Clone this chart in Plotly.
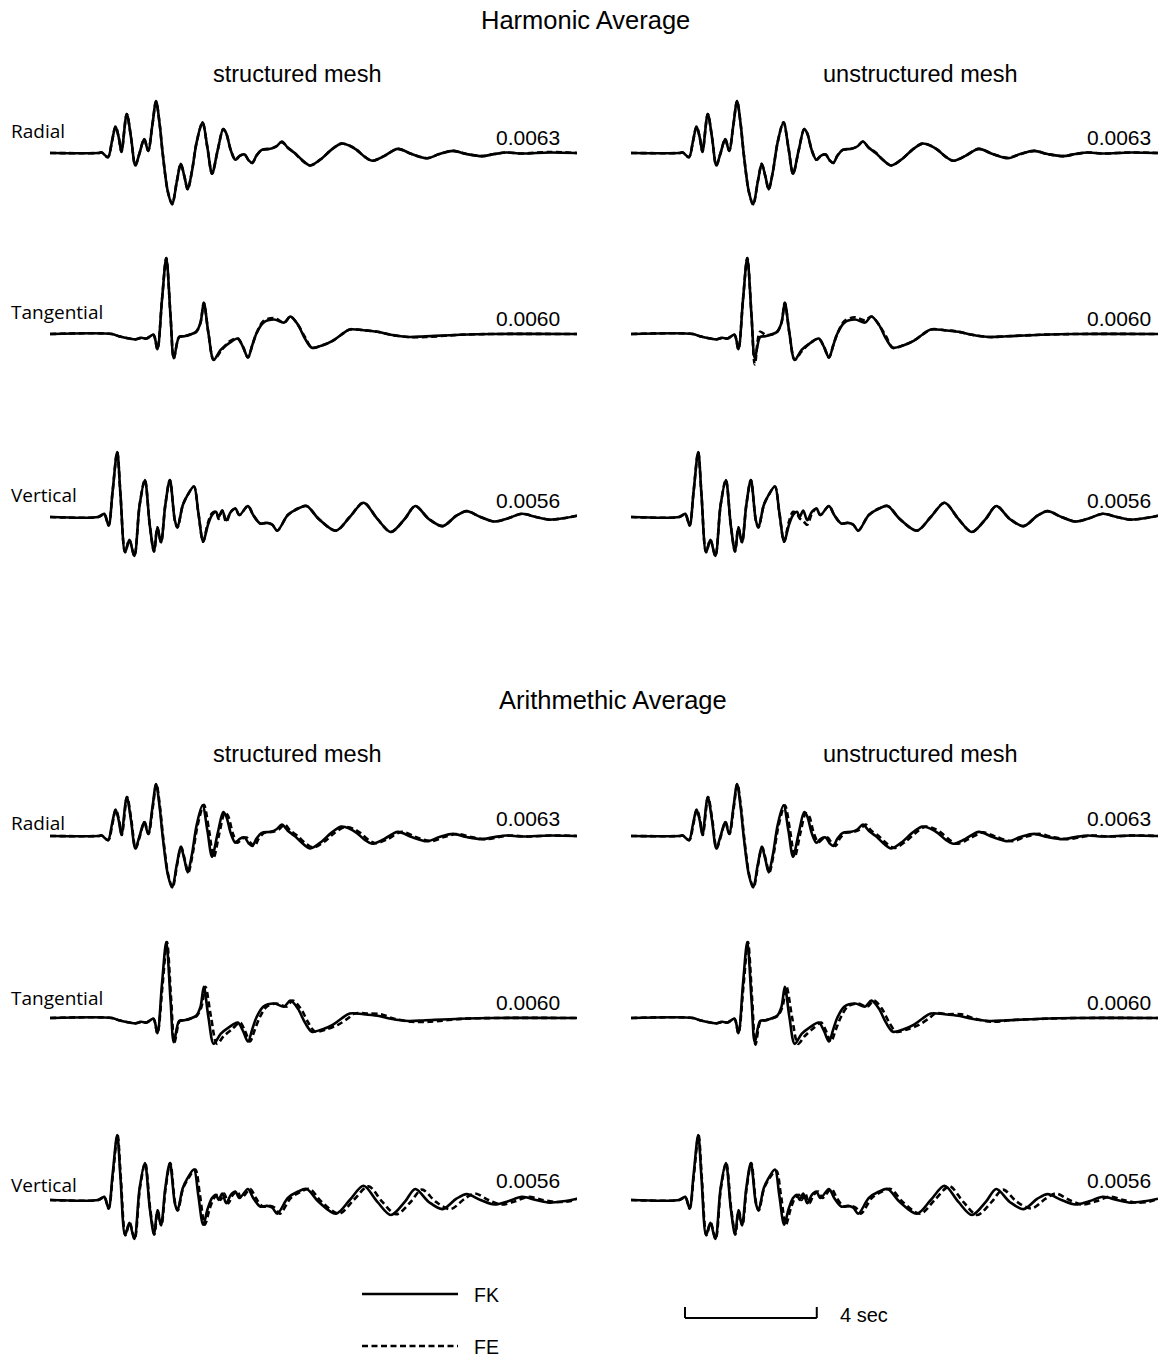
import plotly.graph_objects as go

FIG_W, FIG_H = 1159, 1357

# ---------------------------------------------------------------------------
# Labels
# ---------------------------------------------------------------------------
group_titles = ["Harmonic Average", "Arithmethic Average"]
group_keys = ["harmonic", "arithmetic"]
mesh_titles = ["structured mesh", "unstructured mesh"]
mesh_keys = ["structured", "unstructured"]
components = ["Radial", "Tangential", "Vertical"]
peak_amplitude = [0.0063, 0.0060, 0.0056]   # peak value of each component
legend_labels = ["FK", "FE"]
scale_bar_seconds = 4
record_length = 16.0

# ---------------------------------------------------------------------------
# Seismograms: time (s) and amplitude normalised to the peak value
# ---------------------------------------------------------------------------
radial_t = [0, 1.46, 1.57, 1.76, 1.88, 1.99, 2.09, 2.17, 2.33, 2.46,
            2.59, 2.72, 2.86, 2.98, 3.11, 3.22, 3.33, 3.42, 3.58, 3.71,
            3.85, 3.97, 4.08, 4.18, 4.31, 4.45, 4.63, 4.78, 4.92, 5.09,
            5.26, 5.35, 5.49, 5.63, 5.77, 5.91, 6.03, 6.14, 6.27, 6.43,
            6.69, 6.88, 7.04, 7.22, 7.43, 7.63, 7.90, 8.26, 8.52, 8.84,
            9.10, 9.31, 9.57, 9.78, 10.14, 10.56, 10.98, 11.45, 11.82, 12.24,
            12.65, 13.12, 13.49, 13.86, 14.33, 15.16, 16.0]
radial_fk = [0, 0, 0.01, -0.08, 0.22, 0.51, 0.29, 0.02, 0.75, 0.30,
             -0.24, 0.0, 0.27, 0.04, 0.55, 1.0, 0.55, 0.0, -0.75, -0.99,
             -0.55, -0.21, -0.45, -0.70, -0.35, 0.20, 0.59, 0.10, -0.40, 0.05,
             0.46, 0.38, 0.05, -0.13, -0.05, -0.03, -0.14, -0.19, -0.05, 0.06,
             0.08, 0.13, 0.22, 0.10, 0.0, -0.12, -0.24, -0.10, 0.05, 0.18,
             0.14, 0.06, -0.08, -0.15, -0.06, 0.08, -0.02, -0.10, -0.02, 0.04,
             -0.02, -0.06, -0.02, 0.01, -0.01, 0.01, 0.0]
radial_fe_harm_struct = [0, 0, 0.01, -0.08, 0.22, 0.51, 0.29, 0.02, 0.75, 0.30,
                         -0.24, 0.0, 0.27, 0.04, 0.55, 0.99, 0.55, 0.0, -0.75, -0.98,
                         -0.55, -0.21, -0.45, -0.70, -0.35, 0.20, 0.58, 0.10, -0.40, 0.05,
                         0.46, 0.38, 0.05, -0.13, -0.05, -0.03, -0.14, -0.19, -0.05, 0.06,
                         0.08, 0.13, 0.21, 0.10, 0.0, -0.13, -0.24, -0.10, 0.05, 0.18,
                         0.14, 0.06, -0.08, -0.15, -0.06, 0.08, -0.02, -0.10, -0.02, 0.04,
                         -0.02, -0.06, -0.02, 0.01, -0.01, 0.02, 0.0]
radial_fe_harm_unstruct = [0, 0, 0.01, -0.08, 0.22, 0.51, 0.29, 0.02, 0.75, 0.30,
                           -0.24, 0.0, 0.27, 0.04, 0.55, 1.0, 0.55, 0.0, -0.75, -0.99,
                           -0.55, -0.21, -0.45, -0.70, -0.35, 0.20, 0.59, 0.10, -0.40, 0.05,
                           0.46, 0.38, 0.05, -0.13, -0.05, -0.03, -0.14, -0.19, -0.05, 0.06,
                           0.08, 0.13, 0.22, 0.10, 0.01, -0.12, -0.24, -0.10, 0.05, 0.18,
                           0.14, 0.06, -0.08, -0.15, -0.06, 0.08, -0.02, -0.09, -0.02, 0.04,
                           -0.02, -0.06, -0.02, 0.01, -0.01, 0.01, 0.0]
radial_t_arith = [0, 1.46, 1.57, 1.77, 1.89, 2.00, 2.10, 2.18, 2.34, 2.47,
                  2.60, 2.73, 2.87, 2.99, 3.12, 3.23, 3.34, 3.43, 3.59, 3.72,
                  3.86, 3.98, 4.09, 4.20, 4.33, 4.48, 4.67, 4.83, 4.97, 5.14,
                  5.31, 5.41, 5.55, 5.69, 5.83, 5.97, 6.10, 6.21, 6.34, 6.50,
                  6.77, 6.96, 7.12, 7.30, 7.52, 7.72, 7.99, 8.35, 8.62, 8.94,
                  9.21, 9.42, 9.68, 9.89, 10.25, 10.68, 11.10, 11.57, 11.96, 12.38,
                  12.79, 13.26, 13.64, 14.01, 14.48, 15.31, 16.0]
radial_fe_arith_struct = [0, 0, 0.01, -0.08, 0.22, 0.51, 0.29, 0.02, 0.75, 0.30,
                          -0.24, 0.0, 0.27, 0.04, 0.55, 1.0, 0.55, 0.0, -0.75, -0.99,
                          -0.55, -0.21, -0.45, -0.70, -0.35, 0.20, 0.60, 0.10, -0.41, 0.05,
                          0.45, 0.38, 0.05, -0.13, -0.05, -0.03, -0.14, -0.19, -0.05, 0.06,
                          0.08, 0.13, 0.22, 0.10, 0.0, -0.12, -0.22, -0.10, 0.05, 0.17,
                          0.14, 0.06, -0.08, -0.14, -0.06, 0.08, -0.02, -0.10, -0.02, 0.04,
                          -0.02, -0.06, -0.02, 0.01, -0.01, 0.01, 0.0]
radial_fe_arith_unstruct = [0, 0, 0.01, -0.08, 0.22, 0.51, 0.29, 0.02, 0.75, 0.30,
                            -0.24, 0.0, 0.27, 0.04, 0.55, 1.0, 0.55, 0.0, -0.75, -0.99,
                            -0.55, -0.21, -0.45, -0.70, -0.35, 0.20, 0.59, 0.10, -0.40, 0.05,
                            0.44, 0.38, 0.05, -0.12, -0.05, -0.03, -0.14, -0.19, -0.05, 0.06,
                            0.08, 0.13, 0.22, 0.10, 0.0, -0.12, -0.23, -0.10, 0.05, 0.18,
                            0.14, 0.06, -0.08, -0.15, -0.06, 0.07, -0.02, -0.10, -0.02, 0.04,
                            -0.02, -0.06, -0.02, 0.01, -0.01, 0.01, 0.0]

tangential_t = [0, 1.88, 2.09, 2.41, 2.61, 2.77, 2.93, 3.14, 3.26, 3.40,
                3.53, 3.66, 3.76, 3.92, 4.08, 4.24, 4.44, 4.57, 4.67, 4.81,
                4.97, 5.18, 5.44, 5.70, 5.86, 6.01, 6.14, 6.27, 6.48, 6.80,
                7.11, 7.30, 7.53, 7.74, 7.95, 8.26, 8.58, 8.84, 9.10, 9.52,
                9.94, 10.35, 10.88, 11.40, 12.44, 13.49, 16.0]
tangential_fk = [0, 0, -0.03, -0.06, -0.07, -0.05, -0.06, -0.01, -0.20, 0.45,
                 1.0, 0.23, -0.32, -0.04, -0.03, -0.01, 0.03, 0.15, 0.41, 0.01,
                 -0.34, -0.21, -0.12, -0.06, -0.17, -0.31, -0.15, 0.01, 0.15, 0.19,
                 0.15, 0.23, 0.12, -0.06, -0.18, -0.15, -0.09, -0.01, 0.06, 0.05,
                 0.03, -0.01, -0.04, -0.03, -0.01, 0.0, 0.0]
tangential_fe_harm_struct = [0, 0, -0.03, -0.06, -0.07, -0.05, -0.06, -0.01, -0.20, 0.45,
                             1.0, 0.23, -0.32, -0.04, -0.03, -0.01, 0.03, 0.15, 0.41, 0.01,
                             -0.34, -0.23, -0.10, -0.06, -0.17, -0.31, -0.15, 0.01, 0.17, 0.21,
                             0.15, 0.23, 0.12, -0.04, -0.18, -0.15, -0.09, -0.01, 0.06, 0.05,
                             0.03, -0.01, -0.04, -0.04, -0.01, 0.0, 0.0]
tangential_fe_harm_unstruct = [0, 0, -0.03, -0.06, -0.07, -0.05, -0.06, -0.01, -0.20, 0.45,
                               1.0, 0.23, -0.40, 0.03, -0.01, -0.01, 0.03, 0.15, 0.41, 0.01,
                               -0.34, -0.23, -0.12, -0.06, -0.17, -0.31, -0.15, 0.01, 0.17, 0.22,
                               0.18, 0.23, 0.12, -0.03, -0.18, -0.15, -0.09, -0.01, 0.06, 0.05,
                               0.03, -0.01, -0.04, -0.03, -0.01, 0.0, 0.0]
tangential_t_arith = [0, 1.88, 2.09, 2.41, 2.61, 2.77, 2.93, 3.14, 3.26, 3.42,
                      3.55, 3.68, 3.78, 3.94, 4.10, 4.26, 4.46, 4.60, 4.72, 4.89,
                      5.07, 5.27, 5.52, 5.77, 5.92, 6.07, 6.22, 6.37, 6.58, 6.88,
                      7.18, 7.37, 7.62, 7.84, 8.05, 8.38, 8.74, 9.03, 9.25, 9.64,
                      10.04, 10.45, 10.98, 11.50, 12.54, 13.59, 16.0]
tangential_fe_arith_struct = [0, 0, -0.03, -0.06, -0.07, -0.05, -0.06, -0.01, -0.20, 0.45,
                              1.0, 0.23, -0.32, -0.04, -0.03, -0.01, 0.03, 0.15, 0.41, 0.01,
                              -0.34, -0.24, -0.15, -0.06, -0.17, -0.31, -0.15, 0.01, 0.15, 0.19,
                              0.15, 0.23, 0.12, -0.06, -0.18, -0.15, -0.09, -0.01, 0.06, 0.06,
                              0.05, -0.01, -0.05, -0.05, -0.01, 0.0, 0.0]
tangential_fe_arith_unstruct = [0, 0, -0.03, -0.06, -0.07, -0.05, -0.06, -0.01, -0.20, 0.45,
                                1.0, 0.23, -0.35, -0.04, -0.03, -0.01, 0.03, 0.15, 0.41, 0.01,
                                -0.34, -0.24, -0.14, -0.06, -0.17, -0.31, -0.15, 0.01, 0.15, 0.19,
                                0.15, 0.23, 0.12, -0.06, -0.18, -0.15, -0.09, -0.01, 0.06, 0.05,
                                0.05, -0.01, -0.05, -0.03, -0.01, 0.0, 0.0]

vertical_t = [0, 1.46, 1.57, 1.65, 1.78, 1.90, 2.04, 2.14, 2.28, 2.41,
              2.56, 2.72, 2.88, 3.03, 3.16, 3.26, 3.37, 3.50, 3.64, 3.79,
              3.87, 4.03, 4.18, 4.37, 4.50, 4.65, 4.79, 4.92, 5.04, 5.12,
              5.23, 5.35, 5.49, 5.63, 5.75, 6.01, 6.17, 6.38, 6.59, 6.75,
              6.90, 7.22, 7.53, 7.79, 8.16, 8.68, 9.10, 9.52, 9.94, 10.35,
              10.77, 11.09, 11.50, 11.92, 12.34, 12.65, 13.07, 13.49, 13.91, 14.33,
              14.75, 15.16, 15.58, 16.0]
vertical_fk = [0, 0, 0.03, 0.05, -0.13, 0.39, 1.0, 0.34, -0.54, -0.35,
               -0.60, 0.18, 0.57, -0.13, -0.53, -0.16, -0.39, 0.18, 0.57, -0.05,
               -0.16, 0.18, 0.34, 0.47, 0.08, -0.38, -0.13, 0.03, 0.08, 0.0,
               0.10, -0.05, 0.08, 0.13, 0.03, 0.17, 0.03, -0.10, -0.09, -0.12,
               -0.21, 0.03, 0.13, 0.17, -0.03, -0.21, 0.0, 0.22, -0.03, -0.23,
               -0.03, 0.17, -0.03, -0.14, 0.02, 0.09, 0.0, -0.07, -0.02, 0.05,
               0.0, -0.04, -0.02, 0.02]
vertical_fe_harm_struct = [0, 0, 0.03, 0.05, -0.13, 0.39, 1.0, 0.34, -0.54, -0.35,
                           -0.60, 0.18, 0.57, -0.13, -0.53, -0.16, -0.39, 0.18, 0.57, -0.05,
                           -0.16, 0.18, 0.34, 0.47, 0.08, -0.38, -0.10, 0.06, 0.08, -0.03,
                           0.10, -0.08, 0.08, 0.13, 0.03, 0.17, 0.03, -0.10, -0.09, -0.12,
                           -0.21, 0.03, 0.13, 0.17, -0.03, -0.21, 0.0, 0.22, -0.03, -0.23,
                           -0.03, 0.17, -0.03, -0.14, 0.02, 0.09, 0.0, -0.07, -0.02, 0.05,
                           0.0, -0.04, -0.02, 0.02]
vertical_fe_harm_unstruct = [0, 0, 0.03, 0.05, -0.13, 0.39, 1.0, 0.34, -0.54, -0.35,
                             -0.60, 0.18, 0.57, -0.13, -0.53, -0.16, -0.39, 0.18, 0.57, -0.05,
                             -0.16, 0.18, 0.34, 0.47, 0.08, -0.38, -0.08, 0.08, 0.05, -0.02,
                             -0.06, -0.12, 0.05, 0.13, 0.03, 0.17, 0.03, -0.10, -0.09, -0.12,
                             -0.21, 0.03, 0.13, 0.17, -0.03, -0.21, 0.0, 0.22, -0.03, -0.23,
                             -0.03, 0.17, -0.03, -0.14, 0.02, 0.09, 0.0, -0.07, -0.02, 0.05,
                             0.0, -0.04, -0.02, 0.02]
vertical_t_arith = [0, 1.46, 1.57, 1.65, 1.78, 1.91, 2.05, 2.15, 2.29, 2.42,
                    2.57, 2.73, 2.89, 3.04, 3.17, 3.27, 3.38, 3.51, 3.65, 3.80,
                    3.88, 4.04, 4.21, 4.41, 4.55, 4.70, 4.85, 4.98, 5.10, 5.18,
                    5.29, 5.41, 5.55, 5.69, 5.81, 6.08, 6.25, 6.46, 6.67, 6.83,
                    6.98, 7.31, 7.62, 7.88, 8.25, 8.78, 9.22, 9.67, 10.09, 10.51,
                    10.95, 11.29, 11.72, 12.16, 12.59, 12.90, 13.31, 13.71, 14.12, 14.53,
                    14.95, 15.36, 15.78, 16.0]
vertical_fe_arith_struct = [0, 0, 0.03, 0.05, -0.13, 0.39, 1.0, 0.34, -0.54, -0.35,
                            -0.60, 0.18, 0.57, -0.13, -0.53, -0.16, -0.39, 0.18, 0.57, -0.05,
                            -0.16, 0.18, 0.34, 0.47, 0.08, -0.38, -0.13, 0.03, 0.08, 0.0,
                            0.10, -0.05, 0.08, 0.13, 0.03, 0.17, 0.03, -0.10, -0.09, -0.12,
                            -0.21, 0.03, 0.13, 0.17, -0.03, -0.21, 0.0, 0.21, -0.03, -0.22,
                            -0.03, 0.16, -0.03, -0.14, 0.02, 0.10, 0.0, -0.07, -0.02, 0.05,
                            0.0, -0.03, -0.02, 0.02]
vertical_fe_arith_unstruct = [0, 0, 0.03, 0.05, -0.13, 0.39, 1.0, 0.34, -0.54, -0.35,
                              -0.60, 0.18, 0.57, -0.13, -0.53, -0.16, -0.39, 0.18, 0.57, -0.05,
                              -0.16, 0.18, 0.34, 0.45, 0.08, -0.38, -0.13, 0.03, 0.08, 0.0,
                              0.10, -0.05, 0.08, 0.13, 0.03, 0.17, 0.03, -0.10, -0.09, -0.12,
                              -0.21, 0.03, 0.13, 0.17, -0.03, -0.21, 0.0, 0.21, -0.03, -0.23,
                              -0.03, 0.16, -0.03, -0.13, 0.02, 0.10, 0.0, -0.07, -0.02, 0.05,
                              0.0, -0.04, -0.02, 0.02]

fk_series = {
    "Radial": (radial_t, radial_fk),
    "Tangential": (tangential_t, tangential_fk),
    "Vertical": (vertical_t, vertical_fk),
}
fe_series = {
    ("harmonic", "structured", "Radial"): (radial_t, radial_fe_harm_struct),
    ("harmonic", "unstructured", "Radial"): (radial_t, radial_fe_harm_unstruct),
    ("arithmetic", "structured", "Radial"): (radial_t_arith, radial_fe_arith_struct),
    ("arithmetic", "unstructured", "Radial"): (radial_t_arith, radial_fe_arith_unstruct),
    ("harmonic", "structured", "Tangential"): (tangential_t, tangential_fe_harm_struct),
    ("harmonic", "unstructured", "Tangential"): (tangential_t, tangential_fe_harm_unstruct),
    ("arithmetic", "structured", "Tangential"): (tangential_t_arith, tangential_fe_arith_struct),
    ("arithmetic", "unstructured", "Tangential"): (tangential_t_arith, tangential_fe_arith_unstruct),
    ("harmonic", "structured", "Vertical"): (vertical_t, vertical_fe_harm_struct),
    ("harmonic", "unstructured", "Vertical"): (vertical_t, vertical_fe_harm_unstruct),
    ("arithmetic", "structured", "Vertical"): (vertical_t_arith, vertical_fe_arith_struct),
    ("arithmetic", "unstructured", "Vertical"): (vertical_t_arith, vertical_fe_arith_unstruct),
}

# ---------------------------------------------------------------------------
# Page geometry (pixels)
# ---------------------------------------------------------------------------
column_px = [(50, 577), (631, 1158)]
baseline_px = [[153, 334, 517], [836, 1018, 1200]]
peak_height_px = [52, 76, 65]
ABOVE_PX, BELOW_PX = 90, 60
group_title_pos = [(585, 20), (613, 700)]
mesh_title_y = [74, 754]
mesh_title_x = [297, 920]
component_label_y = [[131, 312, 495], [823, 998, 1185]]
value_label_y = [[137, 318, 500], [818, 1002, 1180]]
value_label_right = [562, 1153]

TITLE_FONT = "Liberation Sans, Arial, sans-serif"
LABEL_FONT = "Open Sans, Noto Sans, sans-serif"
LINE_W = 2.6
FE_DASH = "6px,3.5px"


def px_x(p):
    return p / FIG_W


def px_y(p):
    return 1 - p / FIG_H


fig = go.Figure()
layout_axes = {}
annotations = []
shapes = []

n = 0
for g, gkey in enumerate(group_keys):
    for c, mkey in enumerate(mesh_keys):
        for k, comp in enumerate(components):
            n += 1
            xname = "x" if n == 1 else f"x{n}"
            yname = "y" if n == 1 else f"y{n}"
            xkey = "xaxis" if n == 1 else f"xaxis{n}"
            ykey = "yaxis" if n == 1 else f"yaxis{n}"
            peak = peak_amplitude[k]
            per_unit = peak_height_px[k] / peak
            base = baseline_px[g][k]
            x0, x1 = column_px[c]
            layout_axes[xkey] = dict(domain=[px_x(x0), px_x(x1)], range=[0, record_length],
                                     visible=False, anchor=yname, fixedrange=True)
            layout_axes[ykey] = dict(domain=[px_y(base + BELOW_PX), px_y(base - ABOVE_PX)],
                                     range=[-BELOW_PX / per_unit, ABOVE_PX / per_unit],
                                     visible=False, anchor=xname, fixedrange=True)

            t_fk, a_fk = fk_series[comp]
            fig.add_trace(go.Scatter(
                x=t_fk, y=[peak * a for a in a_fk], mode="lines",
                line=dict(color="black", width=LINE_W, shape="spline", smoothing=0.9),
                xaxis=xname, yaxis=yname, showlegend=False, hoverinfo="skip"))
            t_fe, a_fe = fe_series[(gkey, mkey, comp)]
            fig.add_trace(go.Scatter(
                x=t_fe, y=[peak * a for a in a_fe], mode="lines",
                line=dict(color="black", width=LINE_W, dash=FE_DASH,
                          shape="spline", smoothing=0.9),
                xaxis=xname, yaxis=yname, showlegend=False, hoverinfo="skip"))

            # peak amplitude value at the right end of the trace
            annotations.append(dict(
                x=px_x(value_label_right[c]), y=px_y(value_label_y[g][k]),
                xref="paper", yref="paper", xanchor="right", yanchor="middle",
                text=f"{peak:.4f}", showarrow=False,
                font=dict(family=TITLE_FONT, size=21, color="black")))
            if c == 0:
                annotations.append(dict(
                    x=px_x(9), y=px_y(component_label_y[g][k]),
                    xref="paper", yref="paper", xanchor="left", yanchor="middle",
                    text=comp, showarrow=False,
                    font=dict(family=LABEL_FONT, size=19, color="black")))

    # group and mesh titles
    gx, gy = group_title_pos[g]
    annotations.append(dict(x=px_x(gx), y=px_y(gy), xref="paper", yref="paper",
                            xanchor="center", yanchor="middle", text=group_titles[g],
                            showarrow=False,
                            font=dict(family=TITLE_FONT, size=25.5, color="black")))
    for c in range(2):
        annotations.append(dict(x=px_x(mesh_title_x[c]), y=px_y(mesh_title_y[g]),
                                xref="paper", yref="paper", xanchor="center",
                                yanchor="middle", text=mesh_titles[c], showarrow=False,
                                font=dict(family=TITLE_FONT, size=23.5, color="black")))

# Legend: solid FK, dashed FE
legend_y = [1294, 1346]
legend_dash = ["solid", FE_DASH]
for label, ly, dash in zip(legend_labels, legend_y, legend_dash):
    shapes.append(dict(type="line", xref="paper", yref="paper",
                       x0=px_x(362), x1=px_x(458), y0=px_y(ly), y1=px_y(ly),
                       line=dict(color="black", width=LINE_W, dash=dash)))
    annotations.append(dict(x=px_x(472), y=px_y(ly + 1), xref="paper", yref="paper",
                            xanchor="left", yanchor="middle", text=label, showarrow=False,
                            font=dict(family=TITLE_FONT, size=19.5, color="black")))

# Time scale bar, measured on the time axis of the bottom-right panel
bar_axis = "x12"
bar_start = 1.64
bar_end = bar_start + scale_bar_seconds
bar_y, tick_y = 1318, 1307
shapes.append(dict(type="line", xref=bar_axis, yref="paper",
                   x0=bar_start, x1=bar_end, y0=px_y(bar_y), y1=px_y(bar_y),
                   line=dict(color="black", width=2)))
for bx in (bar_start, bar_end):
    shapes.append(dict(type="line", xref=bar_axis, yref="paper",
                       x0=bx, x1=bx, y0=px_y(bar_y), y1=px_y(tick_y),
                       line=dict(color="black", width=2)))
annotations.append(dict(x=px_x(838), y=px_y(1315), xref="paper", yref="paper",
                        xanchor="left", yanchor="middle",
                        text=f"{scale_bar_seconds} sec", showarrow=False,
                        font=dict(family=TITLE_FONT, size=20, color="black")))

fig.update_layout(
    width=FIG_W, height=FIG_H,
    margin=dict(l=0, r=0, t=0, b=0),
    paper_bgcolor="white", plot_bgcolor="white",
    showlegend=False,
    annotations=annotations,
    shapes=shapes,
    **layout_axes,
)

fig.write_html("out.html", config={"displayModeBar": False})
